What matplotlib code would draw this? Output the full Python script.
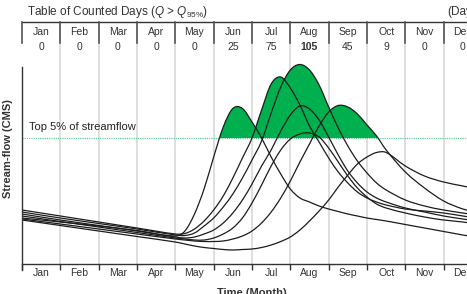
import matplotlib
matplotlib.use("Agg")
import matplotlib.pyplot as plt
import matplotlib.path as mpath
import matplotlib.patches as mpatches
import numpy as np

Path = mpath.Path

plt.rcParams['font.family'] = ['Liberation Sans', 'DejaVu Sans']
plt.rcParams['mathtext.fontset'] = 'custom'
plt.rcParams['mathtext.rm'] = 'Liberation Sans'
plt.rcParams['mathtext.it'] = 'Liberation Sans:italic'
plt.rcParams['mathtext.bf'] = 'Liberation Sans:bold'

# month labels and counted days above the 95th percentile
months = ["Jan", "Feb", "Mar", "Apr", "May", "Jun", "Jul", "Aug", "Sep", "Oct", "Nov", "Dec"]
counted_days = [0, 0, 0, 0, 0, 25, 75, 105, 45, 9, 0, 0]

# time axis (months since 1 Jan)
t = [0, 1, 2, 3, 4, 4.25, 4.5, 4.75, 5, 5.25, 5.5, 5.75, 6, 6.25, 6.5, 6.75,
     7, 7.25, 7.5, 7.75, 8, 8.25, 8.5, 8.75, 9, 9.25, 9.5, 10, 10.5, 11, 11.5, 12]

# hydrographs (relative stream-flow)
flow_a = [46, 42, 38, 33.5, 28, 33, 50, 75, 107, 137, 155.5, 155.5, 142, 126, 107, 90,
          75, 66, 62, 58, 55, 52.5, 50, 48, 46, 44.5, 43, 39.5, 36, 32.5, 29, 25.5]
flow_b = [54, 48, 42, 36, 30, 30.5, 35, 43, 54, 68, 86, 106, 126, 154, 180, 187,
          176, 159, 138, 122, 106, 92, 81, 72, 66, 62, 59, 55, 53, 51, 48, 45]
flow_c = [52, 46, 40.5, 35, 29, 28.5, 31, 38, 46, 57, 70, 86, 104, 123, 151, 177,
          194, 199.5, 194, 179, 157, 136, 118, 103, 91, 81, 74, 64, 58, 54, 51, 48]
flow_d = [50, 44, 38.5, 33, 27, 26, 27, 30, 34, 41, 51, 64, 80, 98, 114, 133,
          149, 158, 155, 144, 127, 109, 93, 81, 72, 66, 62, 56, 52, 48, 45, 42]
flow_e = [48, 42.5, 37, 31.5, 26, 25, 24, 24, 26, 30, 36, 46, 61, 79, 98, 114,
          125, 130, 131, 127, 116, 102, 88, 76, 67, 60, 56, 51, 47, 44, 42, 39]
flow_f = [45, 40, 35, 30, 25, 24, 23, 22.5, 22.5, 23, 25, 28, 33, 41, 52, 66,
          83, 102, 120, 138, 152, 158.5, 157, 150, 139, 128, 114, 92, 76, 63, 55, 50]
flow_g = [44, 38.5, 33, 27.5, 22, 20, 18, 16.5, 15.5, 14.5, 14, 14.5, 15, 16.5, 19, 22.5,
          27, 34, 43, 53, 64, 77, 89, 100, 107, 111.5, 111.5, 98, 88, 82, 78, 74]
threshold = 126

series = [flow_a, flow_b, flow_c, flow_d, flow_e, flow_f, flow_g]


def smooth_path(xs, ys, close_to=None):
    """
    cubic hermite bezier through the read points (function of x)
    """
    xs = np.asarray(xs, float)
    ys = np.asarray(ys, float)
    n = len(xs)
    m = np.zeros(n)
    m[0] = (ys[1] - ys[0]) / (xs[1] - xs[0])
    m[-1] = (ys[-1] - ys[-2]) / (xs[-1] - xs[-2])
    for i in range(1, n - 1):
        m[i] = (ys[i + 1] - ys[i - 1]) / (xs[i + 1] - xs[i - 1])
    verts = [(xs[0], ys[0])]
    codes = [Path.MOVETO]
    for i in range(n - 1):
        h = xs[i + 1] - xs[i]
        verts += [(xs[i] + h / 3, ys[i] + m[i] * h / 3),
                  (xs[i + 1] - h / 3, ys[i + 1] - m[i + 1] * h / 3),
                  (xs[i + 1], ys[i + 1])]
        codes += [Path.CURVE4] * 3
    if close_to is not None:
        verts += [(xs[-1], close_to), (xs[0], close_to), (xs[0], ys[0])]
        codes += [Path.LINETO, Path.LINETO, Path.CLOSEPOLY]
    return Path(verts, codes)


W, H = 467, 294
fig = plt.figure(figsize=(W / 100, H / 100), dpi=100)
# axes runs past the right edge of the figure like the original crop
ax = fig.add_axes([22 / W, 30 / H, 460 / W, 242 / H])
ax.set_xlim(0, 12)
ax.set_ylim(0, 242)

green = "#00b04f"
clip = mpatches.Rectangle((0, threshold), 12, 242 - threshold, transform=ax.transData)
for s in series:
    area = mpatches.PathPatch(smooth_path(t, s, close_to=0), facecolor=green,
                              edgecolor="none", lw=0, zorder=2)
    ax.add_patch(area)
    area.set_clip_path(clip)
for s in series:
    ax.add_patch(mpatches.PathPatch(smooth_path(t, s), facecolor="none",
                                    edgecolor="#1c1c1c", lw=0.9, zorder=3))

ax.axhline(threshold, color="#52c98c", lw=0.8, ls=(0, (1, 1)), zorder=1.5)
ax.text(0.18, 137, "Top 5% of streamflow", fontsize=8, va="center", color="#222222")

# month grid
for i in range(1, 13):
    ax.axvline(i, color="#d9d9d9", lw=1.2, zorder=0)

for s in ["top", "right", "left"]:
    ax.spines[s].set_visible(False)
ax.spines["bottom"].set_color("#333333")
ax.spines["bottom"].set_linewidth(1.0)

ax.set_xticks(range(13))
ax.set_xticklabels([])
ax.tick_params(axis="x", which="major", direction="out", length=4.3, width=1.0, color="#333333")
ax.set_xticks(np.arange(12) + 0.5, minor=True)
ax.set_xticklabels(months, minor=True, fontsize=7.5, color="#333333")
ax.tick_params(axis="x", which="minor", length=0, pad=3)
ax.set_yticks([])

# left spine with the gap under the table
ax.plot([0, 0], [(264 - 67) / 242, -6 / 242], transform=ax.get_xaxis_transform(),
        color="#333333", lw=1.0, clip_on=False, zorder=4)

# table of counted days on top
tr = ax.get_xaxis_transform()
ax.plot([0, 12], [1, 1], transform=tr, color="#333333", lw=1.0, clip_on=False)
for i in range(13):
    ax.plot([i, i], [1, 1 - 21 / 242], transform=tr, color="#555555", lw=1.2,
            clip_on=False, zorder=4)
for i, (m, d) in enumerate(zip(months, counted_days)):
    ax.text(i + 0.5, (264 - 32) / 242, m, transform=tr, ha="center", va="center",
            fontsize=7.5, color="#333333")
    ax.text(i + 0.5, (264 - 47) / 242, str(d), transform=tr, ha="center", va="center",
            fontsize=7.5, color="#333333",
            fontweight="bold" if d == max(counted_days) else "normal")

fig.text(27 / W, 1 - 12 / H, r"Table of Counted Days ($Q$ > $Q_{95\%}$)",
         fontsize=8.5, va="center", color="#333333")
fig.text(482 / W, 1 - 12 / H, "(Days)", fontsize=8.5, va="center", ha="right", color="#333333")
fig.text(8 / W, 1 - 149 / H, "Stream-flow (CMS)", rotation=90, fontsize=8,
         fontweight="bold", va="center", ha="center", color="#333333")
fig.text(252 / W, 1 - 288 / H, "Time (Month)", fontsize=8, fontweight="bold",
         va="top", ha="center", color="#333333")

fig.savefig("out.png", dpi=100)
